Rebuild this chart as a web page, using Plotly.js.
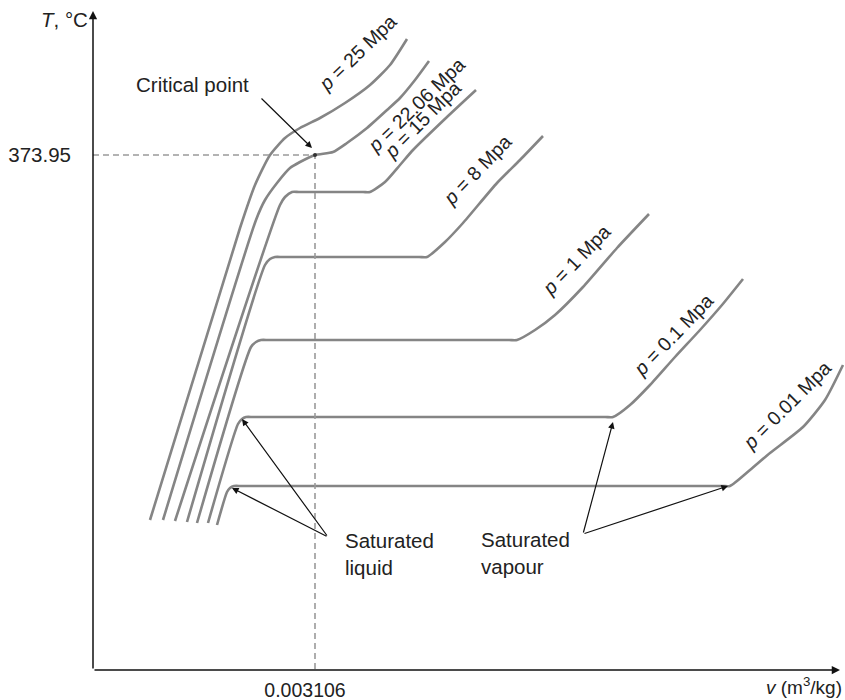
<!DOCTYPE html>
<html>
<head>
<meta charset="utf-8">
<script src="https://cdn.plot.ly/plotly-3.0.1.min.js"></script>
<style>html,body{margin:0;padding:0;background:#fff;}#chart{width:845px;height:700px;}</style>
</head>
<body>
<div id="chart"></div>
<script>
// Schematic T–v diagram of water (arbitrary schematic units)
const pressureLabels = ["p = 25 Mpa", "p = 22.06 Mpa", "p = 15 Mpa", "p = 8 Mpa", "p = 1 Mpa", "p = 0.1 Mpa", "p = 0.01 Mpa"];

const v_25 = [57,147,162,177,192,207,227,252,277,297,314];
const T_25 = [150,442,485,515,532,542,552,567,585,605,631];

const v_2206 = [70,163,172,184,197,207,222,240,254,274,294,307,322,336];
const T_2206 = [150,450,470,487,502,508,515,518,527,542,560,572,590,609];

const v_15 = [82,187,192,199,206,270,277,292,307,320,354,383];
const T_15 = [149,465,473,478,478,478,478,488,505,520,553,580];

const v_8 = [94,172,177,182,190,326,334,352,370,404,427,450];
const T_8 = [148,405,411,413,413,413,413,428,447,487,510,534];

const v_1 = [104,158,163,168,176,416,424,442,462,490,524,556];
const T_1 = [147,323,328,330,330,330,330,340,355,383,422,456];

const v_01 = [115,145,149,153,161,512,520,537,557,582,607,629,650];
const T_01 = [147,246,251,253,253,253,253,265,285,313,340,365,391];

const v_001 = [124,134,137,141,149,629,637,657,677,710,732,750];
const T_001 = [145,178,182,184,184,184,184,200,217,243,270,305];

// critical point: v = 0.003106 m3/kg, T = 373.95 °C
const critV = 222, critT = 515;
const critTickV = ["0.003106"];
const critTickT = ["373.95"];

// label positions along each isobar
const labelV = [264, 323, 329, 384, 483, 580, 694];
const labelT = [617, 565, 550, 500, 410, 335, 265];
const labelAngle = [-44, -44, -45, -46, -46, -46, -45];

const isoV = [v_25, v_2206, v_15, v_8, v_1, v_01, v_001];
const isoT = [T_25, T_2206, T_15, T_8, T_1, T_01, T_001];

const FONT = '"Liberation Sans", Arial, Helvetica, sans-serif';
const GREY = '#858585';
const FS = 20.5;

const traces = isoV.map((vs, i) => ({
  x: vs, y: isoT[i], type: 'scatter', mode: 'lines',
  line: {color: GREY, width: 2.6, shape: 'spline', smoothing: 0.6}, hoverinfo: 'skip', showlegend: false
}));

traces.push({
  x: [0, critV, critV], y: [critT, critT, 0], type: 'scatter', mode: 'lines',
  line: {color: '#9a9a9a', width: 1.6, dash: '6px,4px'}, hoverinfo: 'skip', showlegend: false
});
traces.push({
  x: [critV], y: [critT], type: 'scatter', mode: 'markers',
  marker: {color: '#333', size: 4}, hoverinfo: 'skip', showlegend: false
});

const txt = (s) => s.replace(/^p /, '<i>p</i> ');
const annotations = [];
pressureLabels.forEach((s, i) => {
  annotations.push({x: labelV[i], y: labelT[i], xref: 'x', yref: 'y', text: txt(s),
    showarrow: false, textangle: labelAngle[i], font: {family: FONT, size: 19.5, color: '#222'},
    xanchor: 'center', yanchor: 'middle'});
});
const plainText = (x, y, t, anchor) => ({x: x, y: y, xref: 'x', yref: 'y', text: t, showarrow: false,
  xanchor: anchor || 'left', yanchor: 'middle', font: {family: FONT, size: FS, color: '#222'}});
annotations.push(plainText(99, 586, 'Critical point', 'center'));
annotations.push(plainText(250, 130, 'Saturated'));
annotations.push(plainText(250, 103, 'liquid'));
annotations.push(plainText(386, 131, 'Saturated'));
annotations.push(plainText(386, 104, 'vapour'));
annotations.push({x: 0, y: 651, xref: 'x', yref: 'y', text: '<i>T</i>, °C', showarrow: false,
  xanchor: 'right', yanchor: 'middle', xshift: -3, font: {family: FONT, size: FS, color: '#222'}});
annotations.push({x: 1, y: 0, xref: 'paper', yref: 'paper', text: '<i>v</i> (m<sup>3</sup>/kg)', showarrow: false,
  xanchor: 'right', yanchor: 'middle', xshift: -1, yshift: -16, font: {family: FONT, size: 19, color: '#222'}});

const arrow = (tx, ty, fx, fy, head, w) => ({x: tx, y: ty, ax: fx, ay: fy, xref: 'x', yref: 'y',
  axref: 'x', ayref: 'y', text: '', showarrow: true, arrowhead: head, arrowsize: 1.1,
  arrowwidth: w, arrowcolor: '#111', standoff: 0, startstandoff: 0});
// axes
annotations.push(arrow(747, 0, 0, 0, 2, 1.5));
annotations.push(arrow(0, 659, 0, 0, 2, 1.5));
// pointer arrows
annotations.push(arrow(219, 522, 167, 573, 2, 1.2));
annotations.push(arrow(149, 251, 235, 133, 2, 1.2));
annotations.push(arrow(139, 182, 235, 133, 2, 1.2));
annotations.push(arrow(520, 248, 490, 136, 2, 1.2));
annotations.push(arrow(635, 184, 490, 136, 2, 1.2));

const layout = {
  width: 845, height: 700,
  margin: {l: 93, r: 0, t: 12, b: 30, pad: 0},
  paper_bgcolor: '#fff', plot_bgcolor: '#fff',
  showlegend: false,
  xaxis: {range: [0, 752], showgrid: false, zeroline: false, showline: false,
    tickmode: 'array', tickvals: [critV], ticktext: critTickV, ticks: '',
    ticklabelstandoff: 6, ticklabelshift: -10, automargin: false, fixedrange: true,
    tickfont: {family: FONT, size: 19.5, color: '#222'}},
  yaxis: {range: [0, 658], showgrid: false, zeroline: false, showline: false,
    tickmode: 'array', tickvals: [critT], ticktext: critTickT, ticks: '',
    ticklabelstandoff: 21, automargin: false, fixedrange: true,
    tickfont: {family: FONT, size: FS, color: '#222'}},
  annotations: annotations
};

Plotly.newPlot('chart', traces, layout, {staticPlot: true, displayModeBar: false});
</script>
</body>
</html>
